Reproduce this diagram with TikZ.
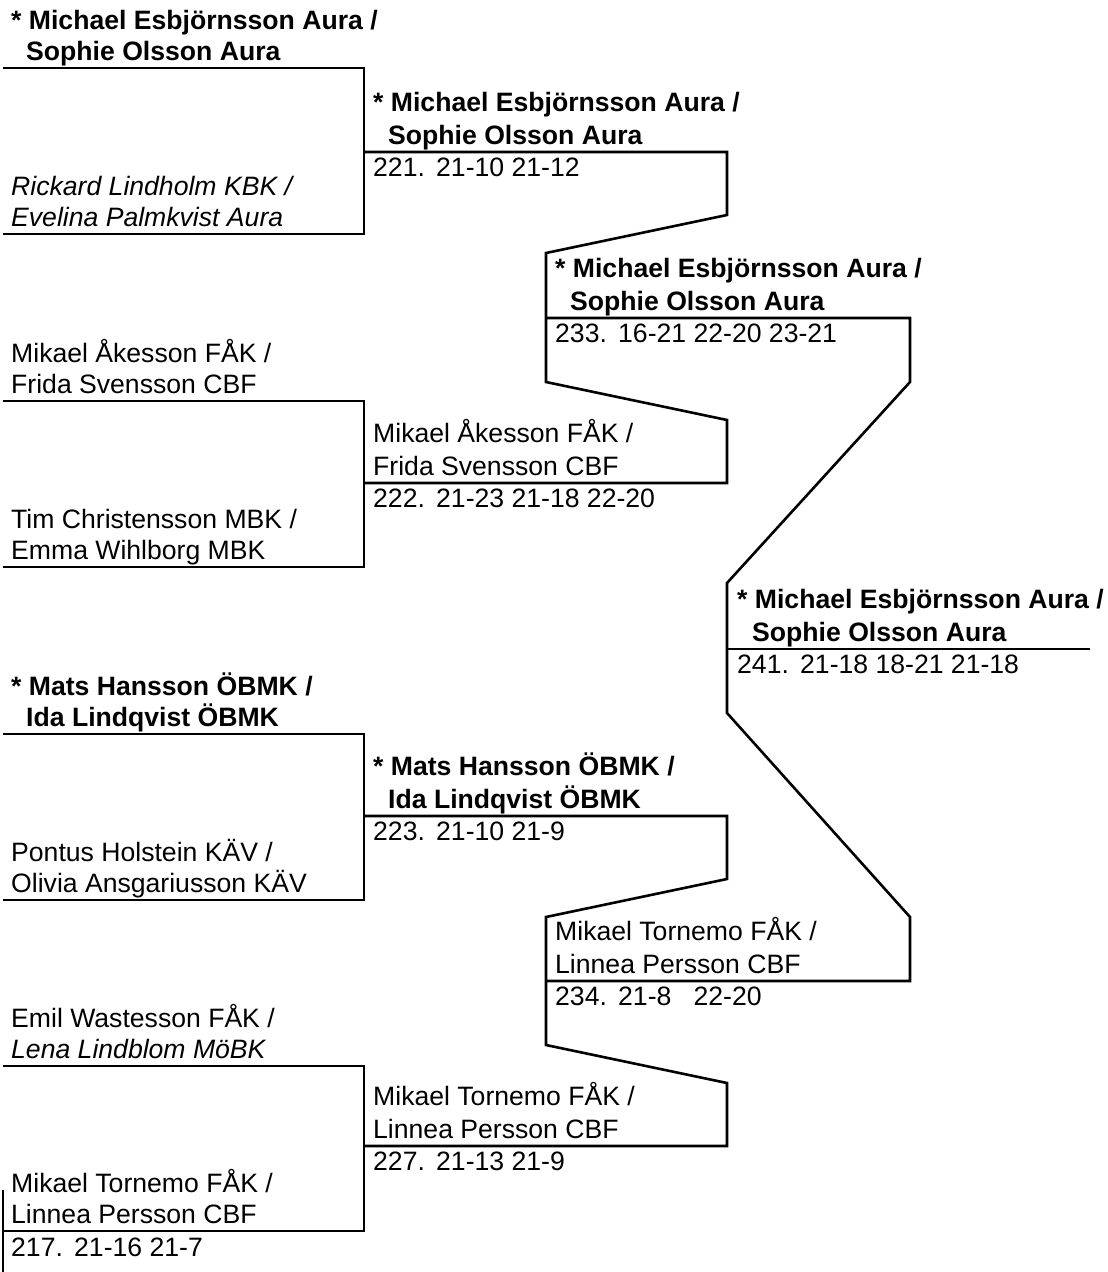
\documentclass[tikz,border=0pt]{standalone}
\usepackage{fontspec}
\setmainfont{Liberation Sans}
\newcommand\fs{\fontsize{26.6}{31}\selectfont}
\newcommand\mnum[1]{\makebox[63pt][l]{#1}}
\newcommand\scol[1]{\makebox[75.4pt][l]{#1}}
\tikzset{
 pl/.style={anchor=base west, inner sep=0pt, font=\fs},
 plb/.style={anchor=base west, inner sep=0pt, font=\fs\bfseries},
 pli/.style={anchor=base west, inner sep=0pt, font=\fs\itshape},
 br/.style={line width=2.6pt, line join=miter},
}
\begin{document}
\begin{tikzpicture}[x=1pt,y=-1pt]
\useasboundingbox (0,0) rectangle (1108,1272);
% round 1 brackets
\draw[br] (3,68) -- (364,68) -- (364,234) -- (3,234);
\draw[br] (3,401) -- (364,401) -- (364,567) -- (3,567);
\draw[br] (3,734) -- (364,734) -- (364,900) -- (3,900);
\draw[br] (3,1066) -- (364,1066) -- (364,1231) -- (3,1231);
\draw[br] (3,1190) -- (3,1272);
% round 2 -> 3
\draw[br] (364,152) -- (727,152) -- (727,215) -- (546,253) -- (546,382) -- (727,420) -- (727,483) -- (364,483);
\draw[br] (364,816) -- (727,816) -- (727,879) -- (546,917) -- (546,1045) -- (727,1083) -- (727,1146) -- (364,1146);
% round 3 -> 4
\draw[br] (546,318) -- (910,318) -- (910,382) -- (727,583) -- (727,713) -- (910,917) -- (910,981) -- (546,981);
\draw[br] (727,649) -- (1090,649);

% round 1 texts
\node[plb] (a1) at (11,29) {* Michael Esbjörnsson Aura /};
\node[plb] (a2) at (26,60) {Sophie Olsson Aura};
\node[pli] (a3) at (11,195) {Rickard Lindholm KBK /};
\node[pli] (a4) at (11,226) {Evelina Palmkvist Aura};
\node[pl] (b1) at (11,362) {Mikael Åkesson FÅK /};
\node[pl] (b2) at (11,393) {Frida Svensson CBF};
\node[pl] (b3) at (11,528) {Tim Christensson MBK /};
\node[pl] (b4) at (11,559) {Emma Wihlborg MBK};
\node[plb] (c1) at (11,695) {* Mats Hansson ÖBMK /};
\node[plb] (c2) at (26,726) {Ida Lindqvist ÖBMK};
\node[pl] (c3) at (11,861) {Pontus Holstein KÄV /};
\node[pl] (c4) at (11,892) {Olivia Ansgariusson KÄV};
\node[pl] (d1) at (11,1027) {Emil Wastesson FÅK /};
\node[pli] (d2) at (11,1058) {Lena Lindblom MöBK};
\node[pl] (d3) at (11,1192) {Mikael Tornemo FÅK /};
\node[pl] (d4) at (11,1223) {Linnea Persson CBF};
\node[pl] (d5) at (11,1256) {\mnum{217.}\scol{21-16}\scol{21-7}};

% round 2 texts
\node[plb] (e1) at (373,111) {* Michael Esbjörnsson Aura /};
\node[plb] (e2) at (388,144) {Sophie Olsson Aura};
\node[pl] (e3) at (373,176) {\mnum{221.}\scol{21-10}\scol{21-12}};
\node[pl] (f1) at (373,442) {Mikael Åkesson FÅK /};
\node[pl] (f2) at (373,475) {Frida Svensson CBF};
\node[pl] (f3) at (373,507) {\mnum{222.}\scol{21-23}\scol{21-18}\scol{22-20}};
\node[plb] (g1) at (373,775) {* Mats Hansson ÖBMK /};
\node[plb] (g2) at (388,808) {Ida Lindqvist ÖBMK};
\node[pl] (g3) at (373,840) {\mnum{223.}\scol{21-10}\scol{21-9}};
\node[pl] (h1) at (373,1105) {Mikael Tornemo FÅK /};
\node[pl] (h2) at (373,1138) {Linnea Persson CBF};
\node[pl] (h3) at (373,1170) {\mnum{227.}\scol{21-13}\scol{21-9}};

% round 3 texts
\node[plb] (i1) at (555,277) {* Michael Esbjörnsson Aura /};
\node[plb] (i2) at (570,310) {Sophie Olsson Aura};
\node[pl] (i3) at (555,342) {\mnum{233.}\scol{16-21}\scol{22-20}\scol{23-21}};
\node[pl] (j1) at (555,940) {Mikael Tornemo FÅK /};
\node[pl] (j2) at (555,973) {Linnea Persson CBF};
\node[pl] (j3) at (555,1005) {\mnum{234.}\scol{21-8}\scol{22-20}};

% round 4 texts
\node[plb] (k1) at (737,608) {* Michael Esbjörnsson Aura /};
\node[plb] (k2) at (752,641) {Sophie Olsson Aura};
\node[pl] (k3) at (737,673) {\mnum{241.}\scol{21-18}\scol{18-21}\scol{21-18}};
\end{tikzpicture}
\end{document}
